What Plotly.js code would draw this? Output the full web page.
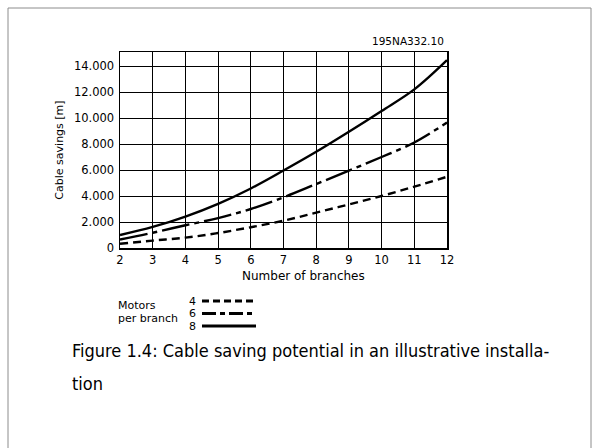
<!DOCTYPE html>
<html><head><meta charset="utf-8">
<script src="https://cdn.plot.ly/plotly-3.0.1.min.js"></script>
<style>html,body{margin:0;padding:0;background:#fff}#c{width:599px;height:448px}</style>
</head><body><div id="c"></div>
<script>
const branches = [2,3,4,5,6,7,8,9,10,11,12];
const motors4 = [330,570,800,1150,1600,2100,2720,3350,4000,4720,5480];
const motors6 = [650,1170,1750,2300,3000,3900,4920,5950,7000,8120,9650];
const motors8 = [1000,1620,2420,3400,4580,5960,7400,8940,10540,12200,14450];
const yTicks = [0,2000,4000,6000,8000,10000,12000,14000];
const xTicks = [2,3,4,5,6,7,8,9,10,11,12];
const legendLabels = ['4','6','8'];
const dashes = ['8px,5px','28px,5px,5px,5px','solid'];

// plot area in pixels: x 120..447, y 52..248
const L=120,R=447,T=52,B=248;
const px = x => (x-L)/(R-L);
const py = y => (B-y)/(B-T);

const traces = [motors4, motors6, motors8].map((v,i)=>({
  x: branches, y: v, type:'scatter', mode:'lines',
  line:{color:'#000', width:2.4, dash:dashes[i], shape:'spline', smoothing:1},
  showlegend:false, hoverinfo:'skip'
}));

const font = {family:'DejaVu Sans, Verdana, sans-serif', size:11, color:'#000'};
const capFont = {family:'DejaVu Sans Condensed, Noto Sans, sans-serif', size:18, color:'#000'};
const shapes = [
  {type:'rect', xref:'paper', yref:'paper', x0:px(8), x1:px(591), y0:py(470), y1:py(8),
   line:{color:'#8c8c8c', width:1}, fillcolor:'rgba(0,0,0,0)', layer:'below'}
];
const legY = [301, 313.5, 326];
legY.forEach((y,i)=>{
  shapes.push({type:'line', xref:'paper', yref:'paper', x0:px(202), x1:px(256), y0:py(y), y1:py(y),
    line:{color:'#000', width:2.8, dash:i===0?'7px,4px':(i===1?'14px,4px,5px,4px':'solid')}});
});
const annotations = [
  {text:'195NA332.10', xref:'paper', yref:'paper', x:px(446), y:py(41), xanchor:'right', yanchor:'middle', showarrow:false, font:{...font, size:10.5}},
  {text:'Number of branches', xref:'paper', yref:'paper', x:px(303), y:py(276), xanchor:'center', yanchor:'middle', showarrow:false, font:{...font, size:12}},
  {text:'Motors', xref:'paper', yref:'paper', x:px(116), y:py(305), xanchor:'left', yanchor:'middle', showarrow:false, font},
  {text:'per branch', xref:'paper', yref:'paper', x:px(116), y:py(318), xanchor:'left', yanchor:'middle', showarrow:false, font},
  {text:'Figure 1.4: Cable saving potential in an illustrative installa-', xref:'paper', yref:'paper', x:px(70), y:py(350), xanchor:'left', yanchor:'middle', showarrow:false, font:capFont},
  {text:'tion', xref:'paper', yref:'paper', x:px(70), y:py(383), xanchor:'left', yanchor:'middle', showarrow:false, font:capFont}
];
legendLabels.forEach((t,i)=>{
  annotations.push({text:t, xref:'paper', yref:'paper', x:px(198), y:py(legY[i]), xanchor:'right', yanchor:'middle', showarrow:false, font});
});

const layout = {
  width:599, height:448,
  margin:{l:L, r:599-R, t:T, b:448-B, pad:0},
  paper_bgcolor:'#fff', plot_bgcolor:'#fff',
  separators:',.',
  font,
  xaxis:{range:[2,12], tickvals:xTicks, ticks:'', showgrid:true, gridcolor:'#000', gridwidth:1,
    zeroline:false, showline:true, linecolor:'#000', linewidth:1.5, mirror:true,
    tickfont:{...font, size:11.5}, ticklabelstandoff:1},
  yaxis:{range:[0,15077], tickvals:yTicks, tickformat:',d', ticks:'', showgrid:true, gridcolor:'#000', gridwidth:1,
    zeroline:false, showline:true, linecolor:'#000', linewidth:1.5, mirror:true,
    title:{text:'Cable savings [m]', font, standoff:8}, tickfont:{...font, size:11.5}, ticklabelstandoff:2},
  shapes, annotations
};
Plotly.newPlot('c', traces, layout, {staticPlot:true, displayModeBar:false});
</script></body></html>
